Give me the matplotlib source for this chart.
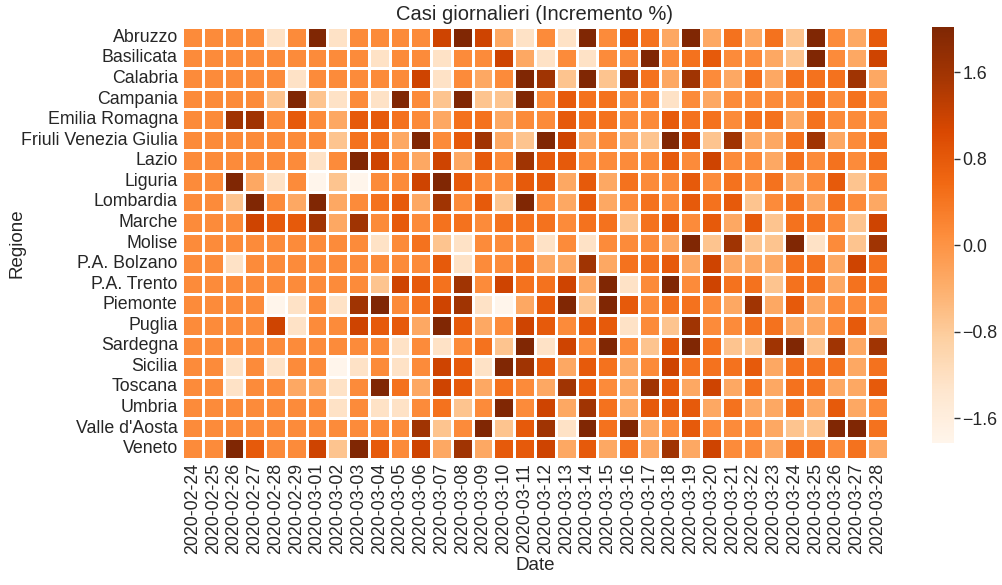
import numpy as np
import pandas as pd
import matplotlib
matplotlib.use('Agg')
import matplotlib.pyplot as plt
import seaborn as sns

regions = ['Abruzzo', 'Basilicata', 'Calabria', 'Campania', 'Emilia Romagna',
           'Friuli Venezia Giulia', 'Lazio', 'Liguria', 'Lombardia', 'Marche',
           'Molise', 'P.A. Bolzano', 'P.A. Trento', 'Piemonte', 'Puglia',
           'Sardegna', 'Sicilia', 'Toscana', 'Umbria', "Valle d'Aosta", 'Veneto']
dates = [d.strftime('%Y-%m-%d') for d in pd.date_range('2020-02-24', '2020-03-28')]

# colour levels (one letter per cell)
levels = {'D': 2.0, 'B': 1.6, 'R': 1.15, 'r': 0.8, 's': 0.45, 'm': 0.12,
          'p': -0.3, 'l': -0.7, 'L': -1.25, 'W': -1.85}
rows = [
    'mmmmLmDLmmmmRDRpLm' + 'LDmrspDpspslDmpr',
    'mmmmmmmmmLmmLmmRpL' + 'mLmmDmsrmmplDmpR',
    'mmmmmLmmmmmRLmpmDB' + 'lDlBspBmpspsssBp',
    'mmmmlDlLmLDmlDllDm' + 'rssmmLmpmmmmsmsm',
    'mmBBmrmprrsmpsspmm' + 'rssmmrssmsspsmmm',
    'mmmmmmmlsspDmrBplD' + 'RpmplDRlBppsBpms',
    'mmmmmmLmDRmpRprmBr' + 'rmmmmrmRmmpsmsms',
    'mmDpLmWlWmmRDrmmrr' + 'prpsmmrmsmspmrlm',
    'mmlDmpDpmsrpBmrlDm' + 'prpmsmrsrlmspsmp',
    'mmmRrrBpBmrmssmsss' + 'msslsrmrprlssmlR',
    'mmmmmmmmmLmslLmmmL' + 'mLmmmpDlBllDLmlB',
    'mmLmmmmmmmmmrLmmsp' + 'pBpssrpRpppsspRs',
    'mmmmmmmmmlRrsBmRss' + 'RpDLmDmRsslsspss',
    'mmmmWLmLBDmsRBLWpr' + 'DlDrmssmpBprpmmm',
    'mmmmRLmmRrrpDrpmRr' + 'mrrLmlBmmssppmrp',
    'mmmmmmmmmmLmLmslDL' + 'RmDmlrDsllBDlBpB',
    'mmLmLmmWLmLmRrLDBr' + 'prspmRsssrpsssps',
    'mmLmmppLmDspRrpsmp' + 'BrmpBrpRpspssppr',
    'mmmmmmmLmLLmslmDmR' + 'pBsprrrpsppsprpm',
    'mmmmmmmmmmmBlmDlrB' + 'LDsDpmrmmmpllDDs',
    'mmDrmmRlDrmRpBprrR' + 'prpspBpRmmpssmsp',
]
values = np.array([[levels[c] for c in row] for row in rows])

df = pd.DataFrame(values, index=regions, columns=dates)

sns.set_theme(style='white')
plt.rcParams['font.family'] = ['Liberation Sans', 'DejaVu Sans']

W, H = 1002, 585
fig = plt.figure(figsize=(W / 100, H / 100), dpi=100)
ax = fig.add_axes([182 / W, 1 - 459 / H, 706 / W, 432 / H])
cax = fig.add_axes([932 / W, 1 - 443 / H, 22 / W, 416 / H])
sns.heatmap(df, ax=ax, cbar_ax=cax, cmap='Oranges', vmin=-1.83, vmax=2.02,
            linewidths=1, linecolor='white',
            cbar_kws={'ticks': [-1.6, -0.8, 0.0, 0.8, 1.6]})
ax.set_title('Casi giornalieri (Incremento %)', fontsize=14.5, pad=5)
ax.set_xlabel('Date', fontsize=13.5, labelpad=2)
ax.set_ylabel('Regione', fontsize=13.5)
ax.yaxis.set_label_coords(-0.222, 0.5)
ax.set_xticks(np.arange(len(dates)) + 0.5)
ax.set_xticklabels(dates, rotation=90, fontsize=12.8)
ax.set_yticks(np.arange(len(regions)) + 0.5)
ax.set_yticklabels(regions, rotation=0, fontsize=12.8)
ax.tick_params(length=0, pad=3)
cax.tick_params(labelsize=12.8, length=4, width=1, color='#333333', pad=2, right=True)
cax.set_yticklabels(['\u22121.6', '\u22120.8', '0.0', '0.8', '1.6'])

fig.savefig('out.png', dpi=100)
